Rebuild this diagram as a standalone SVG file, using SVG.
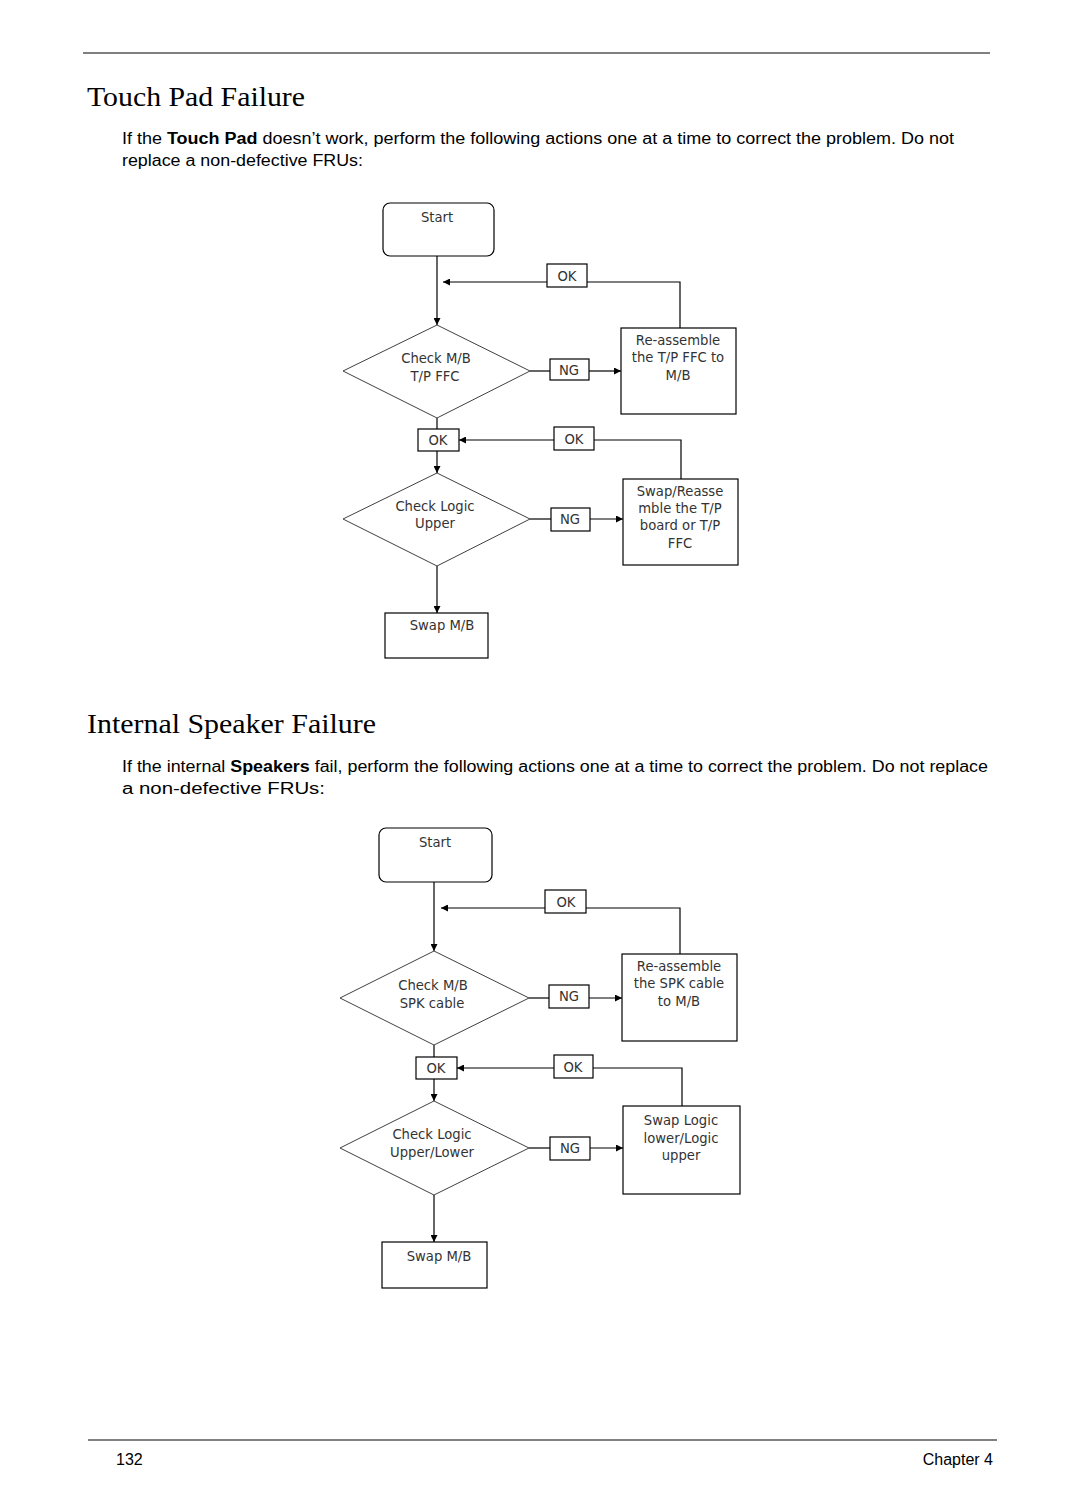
<svg xmlns="http://www.w3.org/2000/svg" width="1080" height="1512" viewBox="0 0 1080 1512">
<style>
.rule{stroke:#808080;stroke-width:2;fill:none}
.title{font-family:"Liberation Serif",serif;font-size:28px;fill:#000}
.para{font-family:"Liberation Sans",Arial,sans-serif;font-size:16px;fill:#000}
.foot{font-family:"Liberation Sans",Arial,sans-serif;font-size:16px;fill:#000}
.shape{fill:#fff;stroke:#000;stroke-width:1.2}
.dia{fill:#fff;stroke:#404040;stroke-width:1}
.lbl{font-family:"DejaVu Sans",sans-serif;font-size:13.2px;fill:#333;text-anchor:middle}
.conn{stroke:#000;stroke-width:1.2;fill:none}
</style>
<defs>
<marker id="arr" viewBox="0 0 10 10" refX="10" refY="5" markerWidth="7" markerHeight="7" orient="auto" markerUnits="userSpaceOnUse">
<path d="M0,0 L10,5 L0,10 z" fill="#000"/>
</marker>
</defs>

<g id="page">
<line class="rule" x1="83" y1="53" x2="990" y2="53"/>
<text class="title" x="87" y="106" textLength="218" lengthAdjust="spacingAndGlyphs">Touch Pad Failure</text>
<text class="para" x="122" y="144" textLength="832" lengthAdjust="spacingAndGlyphs">If the <tspan font-weight="bold">Touch Pad</tspan> doesn’t work, perform the following actions one at a time to correct the problem. Do not</text>
<text class="para" x="122" y="166" textLength="241" lengthAdjust="spacingAndGlyphs">replace a non-defective FRUs:</text>
<text class="title" x="87" y="733" textLength="289" lengthAdjust="spacingAndGlyphs">Internal Speaker Failure</text>
<text class="para" x="122" y="772" textLength="866" lengthAdjust="spacingAndGlyphs">If the internal <tspan font-weight="bold">Speakers</tspan> fail, perform the following actions one at a time to correct the problem. Do not replace</text>
<text class="para" x="122" y="794" textLength="203" lengthAdjust="spacingAndGlyphs">a non-defective FRUs:</text>
<line class="rule" x1="88" y1="1440" x2="997" y2="1440"/>
<text class="foot" x="116" y="1465">132</text>
<text class="foot" x="993" y="1465" text-anchor="end">Chapter 4</text>
</g>

<!-- Touch Pad flowchart -->
<g id="connectors-tp">
<line class="conn" x1="437" y1="256" x2="437" y2="325" marker-end="url(#arr)"/>
<polyline class="conn" points="680,328 680,282 587,282"/>
<line class="conn" x1="547" y1="282" x2="443" y2="282" marker-end="url(#arr)"/>
<line class="conn" x1="530" y1="371" x2="550" y2="371"/>
<line class="conn" x1="589" y1="371" x2="621" y2="371" marker-end="url(#arr)"/>
<line class="conn" x1="437" y1="418" x2="437" y2="429"/>
<line class="conn" x1="437" y1="451" x2="437" y2="473" marker-end="url(#arr)"/>
<polyline class="conn" points="681,479 681,440 594,440"/>
<line class="conn" x1="554" y1="440" x2="459" y2="440" marker-end="url(#arr)"/>
<line class="conn" x1="530" y1="519" x2="551" y2="519"/>
<line class="conn" x1="590" y1="519" x2="623" y2="519" marker-end="url(#arr)"/>
<line class="conn" x1="437" y1="566" x2="437" y2="613" marker-end="url(#arr)"/>
</g>
<g id="tp-start"><rect class="shape" x="383" y="203" width="111" height="53" rx="7"/><text class="lbl" x="437" y="222">Start</text></g>
<g id="tp-ok1"><rect class="shape" x="547" y="264" width="40" height="23"/><text class="lbl" x="567" y="281">OK</text></g>
<g id="tp-reassemble"><rect class="shape" x="621" y="328" width="115" height="86"/><text class="lbl" x="678" y="345">Re-assemble</text><text class="lbl" x="678" y="362">the T/P FFC to</text><text class="lbl" x="678" y="380">M/B</text></g>
<g id="tp-check1"><polygon class="dia" points="437,325 530,371 437,418 343,371"/><text class="lbl" x="436" y="363">Check M/B</text><text class="lbl" x="435" y="381">T/P FFC</text></g>
<g id="tp-ng1"><rect class="shape" x="550" y="359" width="39" height="21"/><text class="lbl" x="569" y="375">NG</text></g>
<g id="tp-ok2"><rect class="shape" x="418" y="429" width="41" height="22"/><text class="lbl" x="438" y="445">OK</text></g>
<g id="tp-ok3"><rect class="shape" x="554" y="427" width="40" height="23"/><text class="lbl" x="574" y="444">OK</text></g>
<g id="tp-swap1"><rect class="shape" x="623" y="479" width="115" height="86"/><text class="lbl" x="680" y="496">Swap/Reasse</text><text class="lbl" x="680" y="513">mble the T/P</text><text class="lbl" x="680" y="530">board or T/P</text><text class="lbl" x="680" y="548">FFC</text></g>
<g id="tp-check2"><polygon class="dia" points="437,473 530,519 437,566 343,519"/><text class="lbl" x="435" y="511">Check Logic</text><text class="lbl" x="435" y="528">Upper</text></g>
<g id="tp-ng2"><rect class="shape" x="551" y="508" width="39" height="23"/><text class="lbl" x="570" y="524">NG</text></g>
<g id="tp-swapmb"><rect class="shape" x="385" y="613" width="103" height="45"/><text class="lbl" x="442" y="630">Swap M/B</text></g>

<!-- Speaker flowchart -->
<g id="connectors-spk">
<line class="conn" x1="434" y1="882" x2="434" y2="951" marker-end="url(#arr)"/>
<polyline class="conn" points="680,954 680,908 586,908"/>
<line class="conn" x1="545" y1="908" x2="441" y2="908" marker-end="url(#arr)"/>
<line class="conn" x1="529" y1="998" x2="549" y2="998"/>
<line class="conn" x1="589" y1="998" x2="622" y2="998" marker-end="url(#arr)"/>
<line class="conn" x1="434" y1="1045" x2="434" y2="1057"/>
<line class="conn" x1="434" y1="1079" x2="434" y2="1101" marker-end="url(#arr)"/>
<polyline class="conn" points="682,1106 682,1068 593,1068"/>
<line class="conn" x1="554" y1="1068" x2="457" y2="1068" marker-end="url(#arr)"/>
<line class="conn" x1="529" y1="1148" x2="550" y2="1148"/>
<line class="conn" x1="590" y1="1148" x2="623" y2="1148" marker-end="url(#arr)"/>
<line class="conn" x1="434" y1="1195" x2="434" y2="1242" marker-end="url(#arr)"/>
</g>
<g id="spk-start"><rect class="shape" x="379" y="828" width="113" height="54" rx="7"/><text class="lbl" x="435" y="847">Start</text></g>
<g id="spk-ok1"><rect class="shape" x="545" y="890" width="41" height="23"/><text class="lbl" x="566" y="907">OK</text></g>
<g id="spk-reassemble"><rect class="shape" x="622" y="954" width="115" height="87"/><text class="lbl" x="679" y="971">Re-assemble</text><text class="lbl" x="679" y="988">the SPK cable</text><text class="lbl" x="679" y="1006">to M/B</text></g>
<g id="spk-check1"><polygon class="dia" points="434,951 529,998 434,1045 340,998"/><text class="lbl" x="433" y="990">Check M/B</text><text class="lbl" x="432" y="1008">SPK cable</text></g>
<g id="spk-ng1"><rect class="shape" x="549" y="985" width="40" height="23"/><text class="lbl" x="569" y="1001">NG</text></g>
<g id="spk-ok2"><rect class="shape" x="416" y="1057" width="41" height="22"/><text class="lbl" x="436" y="1073">OK</text></g>
<g id="spk-ok3"><rect class="shape" x="554" y="1055" width="39" height="23"/><text class="lbl" x="573" y="1072">OK</text></g>
<g id="spk-swap1"><rect class="shape" x="623" y="1106" width="117" height="88"/><text class="lbl" x="681" y="1125">Swap Logic</text><text class="lbl" x="681" y="1143">lower/Logic</text><text class="lbl" x="681" y="1160">upper</text></g>
<g id="spk-check2"><polygon class="dia" points="434,1101 529,1148 434,1195 340,1148"/><text class="lbl" x="432" y="1139">Check Logic</text><text class="lbl" x="432" y="1157">Upper/Lower</text></g>
<g id="spk-ng2"><rect class="shape" x="550" y="1137" width="40" height="23"/><text class="lbl" x="570" y="1153">NG</text></g>
<g id="spk-swapmb"><rect class="shape" x="382" y="1242" width="105" height="46"/><text class="lbl" x="439" y="1261">Swap M/B</text></g>
</svg>
